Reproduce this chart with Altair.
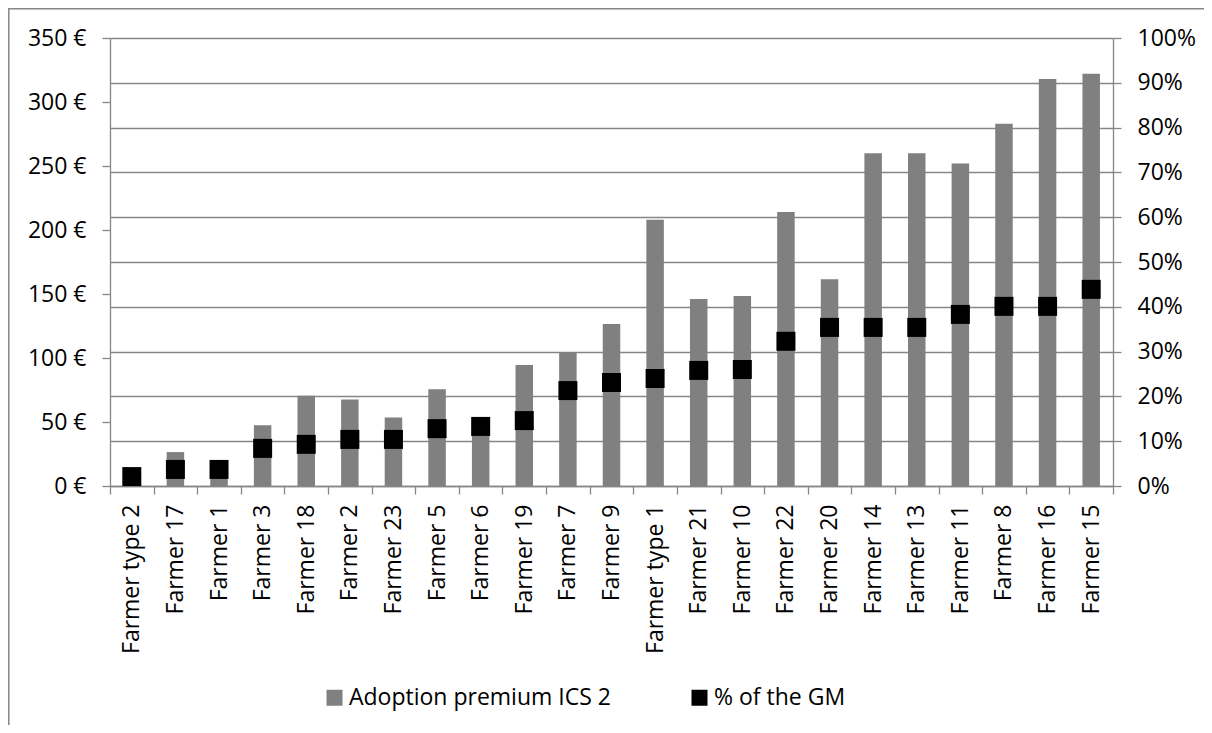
import altair as alt
import pandas as pd

categories = ["Farmer type 2", "Farmer 17", "Farmer 1", "Farmer 3", "Farmer 18", "Farmer 2",
              "Farmer 23", "Farmer 5", "Farmer 6", "Farmer 19", "Farmer 7", "Farmer 9",
              "Farmer type 1", "Farmer 21", "Farmer 10", "Farmer 22", "Farmer 20", "Farmer 14",
              "Farmer 13", "Farmer 11", "Farmer 8", "Farmer 16", "Farmer 15"]
premium = [8, 26.5, 15, 47.5, 70.5, 67.5, 53.5, 75.5, 47, 94.5, 104.5, 126.5, 208, 146,
           148.5, 214, 161.5, 260, 260, 252, 283, 318, 322]
pct_gm = [2.1, 3.7, 3.7, 8.4, 9.3, 10.4, 10.4, 12.8, 13.3, 14.6, 21.3, 23.1, 24.0, 25.8,
          26.0, 32.3, 35.4, 35.4, 35.4, 38.3, 40.1, 40.1, 43.9]
series_names = ["Adoption premium ICS 2", "% of the GM"]
series_colors = ["#808080", "#000000"]
left_ticks = [0, 50, 100, 150, 200, 250, 300, 350]
right_ticks = [0, 10, 20, 30, 40, 50, 60, 70, 80, 90, 100]

df = pd.DataFrame({"farmer": categories, "premium": premium, "pct": pct_gm})
df["s_bar"] = series_names[0]
df["s_pct"] = series_names[1]

FONT = "Open Sans"
GRID = "#868686"

color_scale = alt.Scale(domain=series_names, range=series_colors)
color_legend = alt.Legend(
    title=None, orient="none", legendX=213, legendY=648, direction="horizontal",
    symbolType="square", symbolSize=256, symbolStrokeWidth=0, labelFont=FONT,
    labelFontSize=23, labelColor="#000000", labelOffset=3, columnPadding=77, padding=0,
    labelLimit=0,
)

x_enc = alt.X(
    "farmer:N", sort=categories,
    scale=alt.Scale(paddingInner=0, paddingOuter=0),
    axis=alt.Axis(title=None, labelAngle=270, labelPadding=10, tickBand="extent",
                  tickSize=8, domainColor=GRID, tickColor=GRID, domainWidth=1.3,
                  tickWidth=1.3, grid=False),
)

bars = alt.Chart(df).mark_bar(size=17.5).encode(
    x=x_enc,
    y=alt.Y("premium:Q", scale=alt.Scale(domain=[0, 350], nice=False),
            axis=alt.Axis(orient="left", title=None, values=left_ticks,
                          labelExpr="datum.value + ' €'", grid=False, tickSize=8,
                          labelPadding=16, domainColor=GRID, tickColor=GRID,
                          domainWidth=1.3, tickWidth=1.3)),
    color=alt.Color("s_bar:N", scale=color_scale, legend=color_legend),
)

squares = alt.Chart(df).mark_square(size=361, opacity=1, filled=True).encode(
    x=x_enc,
    y=alt.Y("pct:Q", scale=alt.Scale(domain=[0, 100], nice=False),
            axis=alt.Axis(orient="right", title=None, values=right_ticks,
                          labelExpr="datum.value + '%'", grid=True, gridColor=GRID,
                          gridWidth=1.3, tickSize=8, labelPadding=16, domainColor=GRID,
                          tickColor=GRID, domainWidth=1.3, tickWidth=1.3)),
    color=alt.Color("s_pct:N", scale=color_scale, legend=color_legend),
)

frame = alt.Chart(pd.DataFrame({"k": [0]})).mark_rect(
    filled=False, stroke=GRID, strokeWidth=1.5, clip=False
).encode(
    x=alt.value(-101.2), x2=alt.value(1300), y=alt.value(-29.2), y2=alt.value(900)
)

chart = alt.layer(bars, squares, frame).resolve_scale(y="independent").properties(
    width=1003, height=448,
    autosize=alt.AutoSizeParams(type="none"),
    padding={"left": 102, "top": 30, "right": 91, "bottom": 239},
).configure_view(strokeWidth=0).configure_axis(
    labelFont=FONT, labelFontSize=23, labelColor="#000000"
)

chart.save("out.html", embed_options={"renderer": "svg", "actions": False})
